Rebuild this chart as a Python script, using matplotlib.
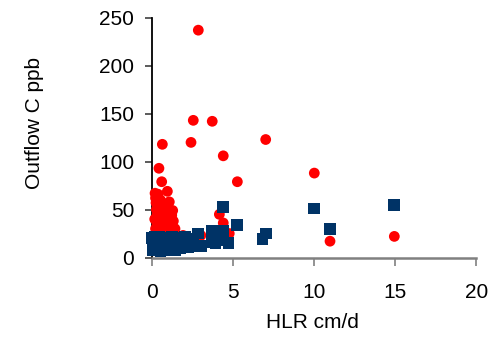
import matplotlib
matplotlib.use('Agg')
import matplotlib.pyplot as plt

plt.rcParams['font.family'] = ['Liberation Sans', 'DejaVu Sans']

# red circles series
red_x = [2.84, 2.53, 3.70, 0.62, 2.39, 7.0, 4.38, 0.41, 10.0, 0.58, 5.25, 10.97, 14.94,
         0.93, 0.17, 0.35, 0.20, 1.05, 0.23, 0.50, 1.26, 4.14, 4.38, 1.90, 3.00, 4.75, 0.05,
         0.30, 0.50, 0.70, 0.90, 1.10, 0.40, 0.60, 0.80, 1.20, 0.30, 0.50, 1.00, 1.40, 0.20,
         0.70, 1.10, 0.40, 0.90, 0.60, 1.20, 0.15, 0.80, 1.30, 0.25, 0.55, 1.00, 0.45]
red_y = [237, 143, 142, 118, 120, 123, 106, 93, 88, 79, 79, 17, 22,
         69, 67, 66, 62, 58, 57, 60, 49, 45, 36, 23, 23, 25, 22,
         45, 47, 44, 42, 40, 40, 38, 36, 35, 35, 32, 31, 30, 30,
         28, 27, 26, 50, 52, 44, 40, 33, 38, 50, 42, 46, 36]

# navy squares series
blue_x = [4.38, 10.0, 5.25, 10.97, 14.94, 7.0, 6.8, 3.7, 2.84, 4.38, 2.0, 4.7, 3.9, 3.0,
          3.67, 2.53, 2.3, 4.2,
          0.0, 0.1, 0.2, 0.3, 0.4, 0.5, 0.6, 0.7, 0.8, 0.9, 1.0, 1.2, 1.1, 1.3, 1.5, 1.7,
          1.9, 2.1, 2.2, 1.6, 0.05, 0.25, 0.45, 0.85, 1.4, 2.6, 2.4, 0.15]
blue_y = [53, 51, 34, 30, 55, 25, 19, 28, 25, 28, 22, 15, 15, 12,
          16, 16, 13, 18,
          20, 14, 8, 21, 12, 7, 17, 10, 20, 8, 14, 22, 9, 17, 12, 10,
          15, 18, 11, 20, 8, 16, 21, 13, 8, 12, 19, 21]

fig = plt.figure(figsize=(4.98, 3.37), dpi=100)
ax = fig.add_axes([152.3 / 498, 1 - 257.5 / 337, 324 / 498, 239.8 / 337])

ax.scatter(red_x, red_y, s=60, marker='o', color='#FF0000', edgecolors='none',
           zorder=3, clip_on=False)
ax.scatter(blue_x, blue_y, s=72, marker='s', color='#003366', edgecolors='none',
           zorder=4, clip_on=False)

ax.set_xlim(0, 20)
ax.set_ylim(0, 250)
ax.set_xticks([0, 5, 10, 15, 20])
ax.set_yticks([0, 50, 100, 150, 200, 250])

for side in ['top', 'right']:
    ax.spines[side].set_visible(False)
ax.spines['left'].set_color('black')
ax.spines['left'].set_linewidth(1.3)
ax.spines['bottom'].set_color('#808080')
ax.spines['bottom'].set_linewidth(1.8)

ax.tick_params(axis='x', direction='out', length=6, width=1.2, color='#808080',
               pad=12, labelsize=15)
ax.tick_params(axis='y', direction='out', length=5, width=1.2, color='#404040',
               pad=8, labelsize=15)

fig.text(35 / 498, 1 - 123.5 / 337, 'Outflow C ppb', rotation=90,
         ha='center', va='center', fontsize=15)
fig.text(312 / 498, 1 - 323 / 337, 'HLR cm/d', ha='center', va='center', fontsize=15)

fig.savefig('out.png', dpi=100)
